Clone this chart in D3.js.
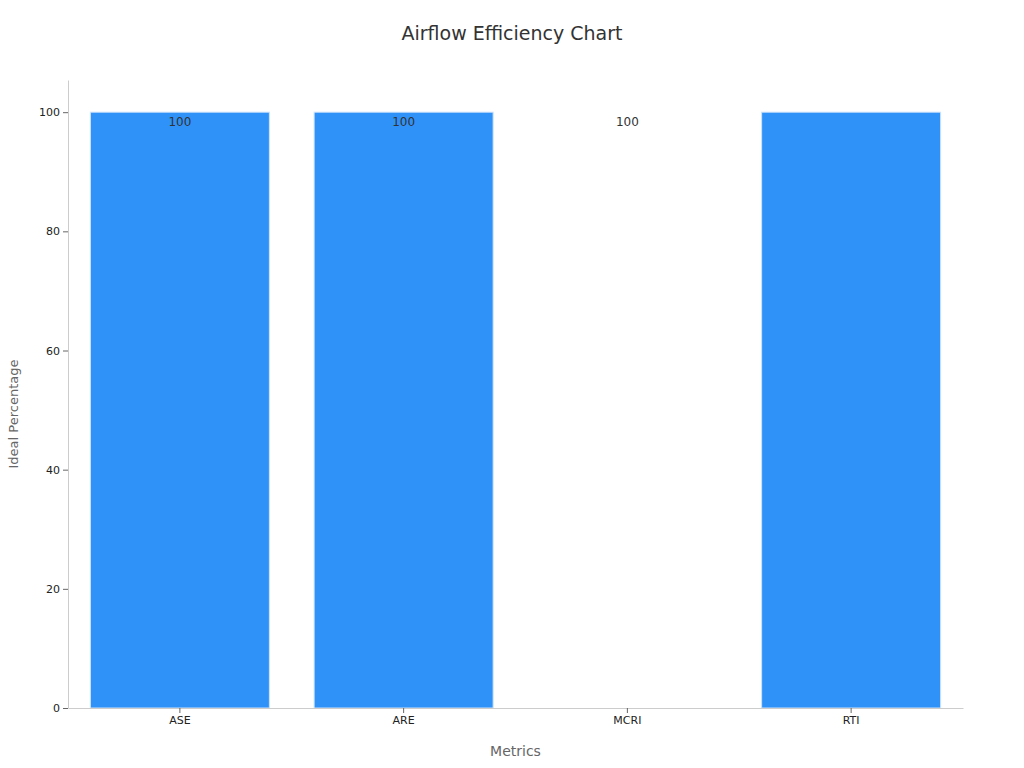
<!DOCTYPE html>
<html>
<head>
<meta charset="utf-8">
<script src="https://d3js.org/d3.v7.min.js"></script>
<style>
  body { margin: 0; background: #fff; font-family: "DejaVu Sans", sans-serif; }
</style>
</head>
<body>
<svg id="chart" width="1024" height="768"></svg>
<script>
// Chart data
const categories = ['ASE', 'ARE', 'MCRI', 'RTI'];
const values = [100, 100, 0, 100];
const yTicks = [0, 20, 40, 60, 80, 100];

const svg = d3.select('#chart');
const margin = { top: 80, right: 61, bottom: 60, left: 68 };
const width = 1024 - margin.left - margin.right;
const height = 768 - margin.top - margin.bottom;

const g = svg.append('g').attr('transform', `translate(${margin.left},${margin.top})`);

const x = d3.scaleBand().domain(categories).range([0, width]).paddingInner(0.2).paddingOuter(0.1);
const y = d3.scaleLinear().domain([0, 105.4]).range([height, 0]);

// Title
svg.append('text')
    .attr('x', 512).attr('y', 40)
    .attr('text-anchor', 'middle')
    .attr('font-size', 19)
    .attr('fill', '#333')
    .text('Airflow Efficiency Chart');

// Bars
g.selectAll('rect.bar')
    .data(values)
    .enter().append('rect')
    .attr('class', 'bar')
    .attr('x', (d, i) => x(categories[i]))
    .attr('y', d => y(d))
    .attr('width', x.bandwidth())
    .attr('height', d => height - y(d))
    .attr('fill', '#2f92f9')
    .attr('stroke', '#cfe3fb')
    .attr('stroke-width', 1);

// Value labels (skip zero)
g.selectAll('text.label')
    .data(values)
    .enter().filter(d => d > 0).append('text')
    .attr('class', 'label')
    .attr('x', (d, i) => x(categories[values.indexOf(d) === i ? i : i]) + x.bandwidth() / 2)
    .attr('y', d => y(d) + 14)
    .attr('text-anchor', 'middle')
    .attr('font-size', 12)
    .attr('fill', '#333')
    .text(d => d);

// Fix label positions using index
g.selectAll('text.label').each(function(d, i) {});

// Axes
const xAxis = g.append('g')
    .attr('transform', `translate(0,${height})`)
    .call(d3.axisBottom(x).tickSize(5).tickSizeOuter(0));
const yAxis = g.append('g')
    .call(d3.axisLeft(y).tickValues(yTicks).tickSize(5).tickSizeOuter(0));

[xAxis, yAxis].forEach(a => {
    a.select('.domain').attr('stroke', '#ccc');
    a.selectAll('.tick line').attr('stroke', '#666');
    a.selectAll('.tick text').attr('font-size', 11).attr('fill', '#222')
        .attr('font-family', '"DejaVu Sans", sans-serif');
});

// Axis titles
svg.append('text')
    .attr('x', margin.left + width / 2).attr('y', 756)
    .attr('text-anchor', 'middle')
    .attr('font-size', 14).attr('fill', '#666')
    .text('Metrics');
svg.append('text')
    .attr('transform', `translate(18,${margin.top + height / 2 + 20}) rotate(-90)`)
    .attr('text-anchor', 'middle')
    .attr('font-size', 13).attr('fill', '#666')
    .text('Ideal Percentage');
</script>
</body>
</html>
